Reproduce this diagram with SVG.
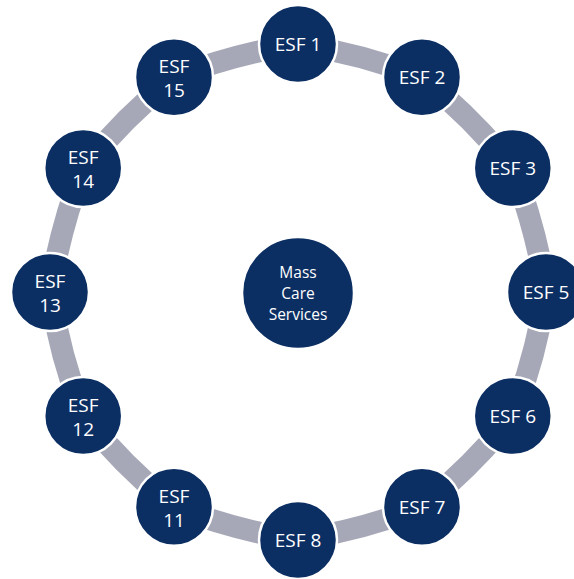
<svg xmlns="http://www.w3.org/2000/svg" width="574" height="579" viewBox="0 0 574 579">
<style>
.ring{fill:none;stroke:#a6a8b7;stroke-width:22}
.node{fill:#0b2e63;stroke:#ffffff;stroke-width:2.5}
.t{fill:#ffffff;font-family:"Open Sans","Liberation Sans",sans-serif;font-size:19px;text-anchor:middle}
.c{fill:#ffffff;font-family:"Open Sans","Liberation Sans",sans-serif;font-size:15.5px;text-anchor:middle}
</style>
<rect width="574" height="579" fill="#ffffff"/>
<g id="connectors">
<path class="ring" d="M298 44 A600 600 0 0 1 422 77.2"/>
<path class="ring" d="M422 77.2 A600 600 0 0 1 512.8 168"/>
<path class="ring" d="M512.8 168 A600 600 0 0 1 546 292"/>
<path class="ring" d="M546 292 A600 600 0 0 1 512.8 416"/>
<path class="ring" d="M512.8 416 A600 600 0 0 1 422 506.8"/>
<path class="ring" d="M422 506.8 A600 600 0 0 1 298 540"/>
<path class="ring" d="M298 540 A600 600 0 0 1 174 506.8"/>
<path class="ring" d="M174 506.8 A600 600 0 0 1 83.2 416"/>
<path class="ring" d="M83.2 416 A600 600 0 0 1 50 292"/>
<path class="ring" d="M50 292 A600 600 0 0 1 83.2 168"/>
<path class="ring" d="M83.2 168 A600 600 0 0 1 174 77.2"/>
<path class="ring" d="M174 77.2 A600 600 0 0 1 298 44"/>
</g>
<g id="center"><circle class="node" cx="298" cy="293" r="56"/><text class="c" x="298" y="278">Mass</text><text class="c" x="298" y="299">Care</text><text class="c" x="298" y="320">Services</text></g>
<g id="esf1"><circle class="node" cx="298" cy="44" r="39"/><text class="t" x="298" y="51">ESF 1</text></g>
<g id="esf2"><circle class="node" cx="422" cy="77.2" r="39"/><text class="t" x="422" y="84">ESF 2</text></g>
<g id="esf3"><circle class="node" cx="512.8" cy="168" r="39"/><text class="t" x="512.8" y="175">ESF 3</text></g>
<g id="esf5"><circle class="node" cx="546" cy="292" r="39"/><text class="t" x="546" y="299">ESF 5</text></g>
<g id="esf6"><circle class="node" cx="512.8" cy="416" r="39"/><text class="t" x="512.8" y="423">ESF 6</text></g>
<g id="esf7"><circle class="node" cx="422" cy="506.8" r="39"/><text class="t" x="422" y="514">ESF 7</text></g>
<g id="esf8"><circle class="node" cx="298" cy="540" r="39"/><text class="t" x="298" y="547">ESF 8</text></g>
<g id="esf11"><circle class="node" cx="174" cy="506.8" r="39"/><text class="t" x="174" y="503">ESF</text><text class="t" x="174" y="527">11</text></g>
<g id="esf12"><circle class="node" cx="83.2" cy="416" r="39"/><text class="t" x="83.2" y="412">ESF</text><text class="t" x="83.2" y="436">12</text></g>
<g id="esf13"><circle class="node" cx="50" cy="292" r="39"/><text class="t" x="50" y="288">ESF</text><text class="t" x="50" y="312">13</text></g>
<g id="esf14"><circle class="node" cx="83.2" cy="168" r="39"/><text class="t" x="83.2" y="164">ESF</text><text class="t" x="83.2" y="188">14</text></g>
<g id="esf15"><circle class="node" cx="174" cy="77.2" r="39"/><text class="t" x="174" y="73">ESF</text><text class="t" x="174" y="97">15</text></g>
</svg>
